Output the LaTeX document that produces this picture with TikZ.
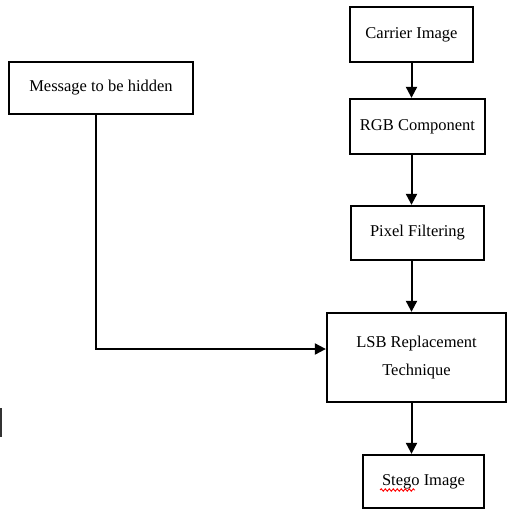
\documentclass[tikz,border=0pt]{standalone}
\usepackage{fontspec}
\setmainfont{Liberation Serif}
\usetikzlibrary{arrows.meta,calc,decorations.pathmorphing}
\begin{document}
\begin{tikzpicture}[x=1pt,y=-1pt,
  stepbox/.style={draw,line width=2.3pt,minimum width=#1,inner sep=0pt,
    font=\fontsize{16.5}{28}\selectfont,align=center},
  arr/.style={line width=2pt,-{Triangle[length=11pt,width=11pt]}}]
\useasboundingbox (0,0) rectangle (510,510);
% process boxes
\node[stepbox=123pt,minimum height=55pt] (carrier) at (411.5,34.5) {Carrier Image};
\node[stepbox=135pt,minimum height=55pt] (rgb) at (417.5,126.5) {RGB Component};
\node[stepbox=133pt,minimum height=54pt] (pixel) at (417.5,233) {Pixel Filtering};
\node[stepbox=179pt,minimum height=89pt] (lsb) at (416.5,357.5) {LSB Replacement\\Technique};
\node[stepbox=121pt,minimum height=53pt] (stego) at (423.5,481.5) {Stego Image};
\node[stepbox=184pt,minimum height=52pt] (message) at (101,88) {Message to be hidden};
% flow of the carrier image
\draw[arr] (carrier.south) -- (carrier.south |- rgb.north);
\draw[arr] (rgb.south -| carrier.south) -- (pixel.north -| carrier.south);
\draw[arr] (pixel.south -| carrier.south) -- (lsb.north -| carrier.south);
\draw[arr] (lsb.south -| carrier.south) -- (stego.north -| carrier.south);
% message joins the embedding step
\coordinate (join) at ([yshift=8.5pt]lsb.west);
\draw[arr] ([xshift=-5pt]message.south) |- (join);
% spelling mark under the word Stego
\draw[red,line width=0.9pt,decorate,decoration={snake,amplitude=1.2pt,segment length=4pt}]
  (380,490) -- (415,490);
% short stray stroke at the left edge
\draw[line width=1.8pt,black!80] (0.9,408) -- (0.9,437);
\end{tikzpicture}
\end{document}
